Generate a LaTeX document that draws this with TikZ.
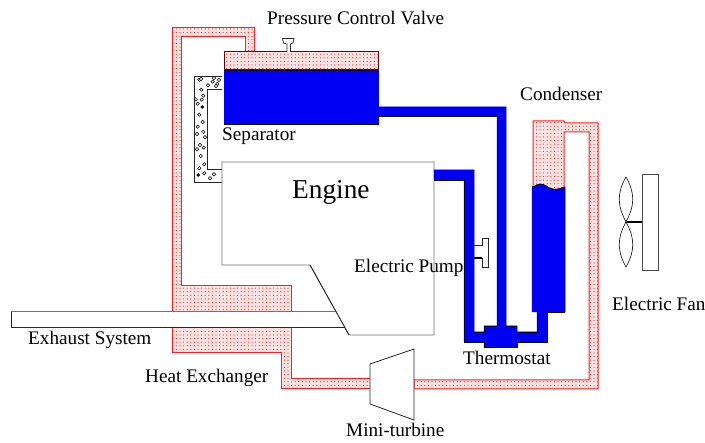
\documentclass[tikz,border=0pt]{standalone}
\usepackage{fontspec}
\setmainfont{Liberation Serif}
\usetikzlibrary{patterns.meta}
\definecolor{pipeblue}{RGB}{0,0,245}
\definecolor{pinkbg}{RGB}{255,228,228}
\definecolor{pipered}{RGB}{255,30,30}
\tikzset{
  steam/.style={draw=pipered,line width=1pt,fill=pinkbg,postaction={pattern={Dots[distance=3.6pt,radius=0.6pt]},pattern color=pipered}},
  water/.style={fill=pipeblue,draw=pipeblue,line width=0.5pt},
  edgeb/.style={draw=black!80!blue,line width=0.8pt},
  shell/.style={draw=black!55,line width=0.9pt},
  part/.style={draw=black!85,line width=0.8pt},
  lbl/.style={inner sep=0pt,font=\fontsize{19.2}{21}\selectfont},
  bubble/.style={draw=black,line width=0.5pt,fill=white}
}
\begin{document}
\begin{tikzpicture}[x=1pt,y=-1pt]
\useasboundingbox (0,0) rectangle (705,443);
% steam circuit
\path[steam] (245,52)--(245,37)--(181,37)--(181,286)--(291,286)--(291,312)--(172,312)--(172,28)--(254,28)--(254,52)--cycle;
\path[steam] (172,327)--(291,327)--(291,379)--(370,379)--(370,389)--(281,389)--(281,353)--(172,353)--cycle;
\path[steam] (414,380)--(589,380)--(589,132)--(564,132)--(564,187)
  .. controls (559,190) and (553,190) .. (549,188)
  .. controls (545,185) and (541,183) .. (537,185)
  .. controls (535,186) and (534,187) .. (533,187)
  --(533,121)--(564,121)--(565,123)--(598,123)--(598,389)--(414,389)--cycle;
% separator
\path[steam,draw=black!40!red!70!black] (224,52) rectangle (378,70);
\path[water] (224,70) rectangle (378,124);
\draw[edgeb] (224,70)--(378,70) (224,124)--(378,124);
% bubbly return
\draw[part,fill=white] (222,76)--(194,76)--(194,182)--(222,182)--(222,169)--(207,169)--(207,89)--(222,89);
\foreach \bx/\by in {199.3/79.7,201/79,208/85.3,212.7/81.7,219/80,217.3/84,201.3/89.7,195.7/99.3,203.3/95.7,201.7/99.7,197.7/103.7,199.3/114.7,202.7/122,197.7/126.7,203.3/132,197/134,205/137.3,200/145,197/149.3,203.7/147.7,200.7/156,204.3/164.3,199.3/168.3,204.3/173.3,210/178.3,214/174.3,214/78,216/86}
  \path[bubble] (\bx,\by) circle (1.7pt);
\fill (202.3,107) circle (1.9pt) (198.3,175) circle (1.9pt);
% engine
\draw[shell,fill=white] (222,162)--(434,162)--(434,335)--(349,335)--(310,265)--(222,265)--cycle;
% exhaust
\path[fill=white] (11,312)--(336,312)--(344.5,327)--(11,327)--cycle;
\draw[black!55,line width=1pt] (336,312)--(11,312);
\draw[black!85,line width=0.8pt] (11,312)--(11,327)--(345,327);
\draw[black!85,line width=0.8pt] (310,265)--(349,335);
% coolant
\path[water] (378,107)--(506,107)--(506,326)--(517,326)--(517,332)--(537,332)--(537,312)--(532,312)--(532,187)
  .. controls (534,187) and (535,186) .. (537,185)
  .. controls (541,183) and (545,185) .. (549,188)
  .. controls (553,190) and (559,190) .. (565,187)
  --(565,312)--(547,312)--(547,342)--(517,342)--(517,347)--(484,347)--(484,342)--(464,342)--(464,180)--(434,180)--(434,170)--(474,170)--(474,332)--(484,332)--(484,326)--(497,326)--(497,116)--(378,116)--cycle;
\draw[edgeb] (378,116)--(497,116)--(497,326) (506,326)--(517,326) (517,332)--(537,332)--(537,312) (547,312)--(565,312)
  (547,312)--(547,342)--(517,342)--(517,347)--(484,347)--(484,342)--(464,342) (434,180)--(464,180)--(464,342)
  (474,332)--(484,332)--(484,326)--(497,326) (378,107)--(506,107);
\draw[black,line width=0.8pt] (532,187)
  .. controls (534,187) and (535,186) .. (537,185)
  .. controls (541,183) and (545,185) .. (549,188)
  .. controls (553,190) and (559,190) .. (565,187);
% pressure control valve
\draw[part,fill=white] (287,52)--(287,44)--(283.5,43)--(282.5,38.5)--(294,38.5)--(293,43)--(290.5,44)--(290.5,52);
% electric pump
\draw[part,line width=0.7pt,fill=white] (474,245)--(482,245)--(482,238)--(488,238)--(488,267)--(482,267)--(482,258);
\draw[black,line width=1.4pt] (474,258)--(482,258);
% fan
\draw[part,draw=black!70,fill=white] (642,174) rectangle (658,270);
\draw[black,line width=1.6pt] (626,222)--(642,222);
\draw[black!85,line width=0.7pt] (626,222) .. controls (617,205) and (617,193) .. (626,177) .. controls (635,193) and (635,205) .. (626,222)
  .. controls (617,238) and (617,251) .. (626,267) .. controls (635,251) and (635,238) .. (626,222);
% mini-turbine
\draw[part,fill=white] (370,364)--(414,349)--(414,420)--(370,404)--cycle;
% labels
\node[lbl,anchor=base west] (valve) at (267,25) {Pressure Control Valve};
\node[lbl,anchor=base west] (sep) at (222,141) {Separator};
\node[lbl,anchor=base west,font=\fontsize{27.3}{29}\selectfont] (eng) at (292,199) {Engine};
\node[lbl,anchor=base west] (cond) at (520,101) {Condenser};
\node[lbl,anchor=base west] (pump) at (354,273) {Electric Pump};
\node[lbl,anchor=base west] (fan) at (612,311) {Electric Fan};
\node[lbl,anchor=base west] (exh) at (28,345) {Exhaust System};
\node[lbl,anchor=base west] (hx) at (145,383) {Heat Exchanger};
\node[lbl,anchor=base west] (th) at (463,365) {Thermostat};
\node[lbl,anchor=base west] (mt) at (346,437) {Mini-turbine};
\end{tikzpicture}
\end{document}
